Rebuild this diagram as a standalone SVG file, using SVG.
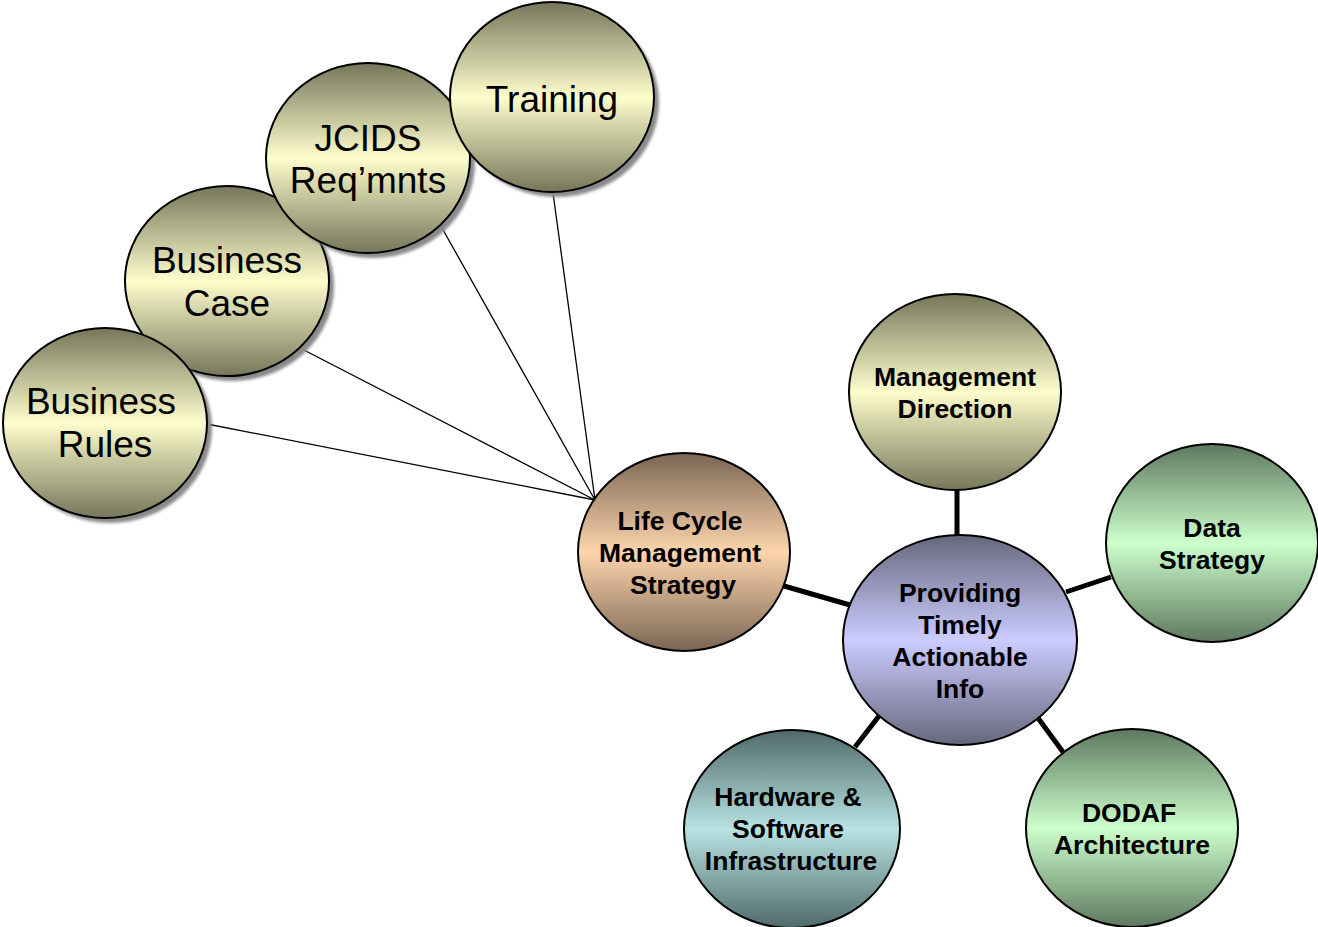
<svg xmlns="http://www.w3.org/2000/svg" width="1318" height="927" viewBox="0 0 1318 927">
<style>
.n{stroke:#000;stroke-width:2}
.sh{fill:#8a8a8a;filter:url(#blur)}
.t1{font-family:"Liberation Sans",Arial,sans-serif;font-size:37px;fill:#000;text-anchor:middle}
.t2{font-family:"Liberation Sans",Arial,sans-serif;font-size:26.5px;font-weight:bold;fill:#000;text-anchor:middle}
.thin{stroke:#000;stroke-width:1.3;fill:none}
.thick{stroke:#000;stroke-width:5;fill:none}
</style>
<defs>
<filter id="blur" x="-10%" y="-10%" width="120%" height="120%"><feGaussianBlur stdDeviation="1.5"/></filter>
<linearGradient id="gY" x1="0" y1="0" x2="0" y2="1">
<stop offset="0" stop-color="#76765a"/><stop offset="0.5" stop-color="#fdfdcc"/><stop offset="1" stop-color="#76765a"/>
</linearGradient>
<linearGradient id="gT" x1="0" y1="0" x2="0" y2="1">
<stop offset="0" stop-color="#7a6552"/><stop offset="0.5" stop-color="#fdd5ad"/><stop offset="1" stop-color="#7a6552"/>
</linearGradient>
<linearGradient id="gP" x1="0" y1="0" x2="0" y2="1">
<stop offset="0" stop-color="#66667e"/><stop offset="0.5" stop-color="#ccccff"/><stop offset="1" stop-color="#66667e"/>
</linearGradient>
<linearGradient id="gG" x1="0" y1="0" x2="0" y2="1">
<stop offset="0" stop-color="#5e785e"/><stop offset="0.5" stop-color="#ccffcc"/><stop offset="1" stop-color="#5e785e"/>
</linearGradient>
<linearGradient id="gC" x1="0" y1="0" x2="0" y2="1">
<stop offset="0" stop-color="#506a6a"/><stop offset="0.5" stop-color="#b8e2e2"/><stop offset="1" stop-color="#506a6a"/>
</linearGradient>
</defs>
<g id="connectors">
<line class="thin" x1="207" y1="424" x2="595" y2="500"/>
<line class="thin" x1="300" y1="348" x2="595" y2="500"/>
<line class="thin" x1="442" y1="228" x2="595" y2="500"/>
<line class="thin" x1="553" y1="193" x2="595" y2="500"/>
<line class="thick" x1="784" y1="586" x2="850" y2="605"/>
<line class="thick" x1="957" y1="536" x2="957" y2="490"/>
<line class="thick" x1="1066" y1="592" x2="1111" y2="577"/>
<line class="thick" x1="879" y1="716" x2="855" y2="747"/>
<line class="thick" x1="1038" y1="718" x2="1063" y2="752"/>
</g>
<g id="business-case">
<ellipse class="sh" cx="232" cy="286" rx="102" ry="95"/>
<ellipse class="n" cx="227" cy="281" rx="102" ry="95" fill="url(#gY)"/>
<text class="t1" x="227" y="273">Business</text>
<text class="t1" x="227" y="316">Case</text>
</g>
<g id="business-rules">
<ellipse class="sh" cx="110" cy="428" rx="102" ry="95"/>
<ellipse class="n" cx="105" cy="423" rx="102" ry="95" fill="url(#gY)"/>
<text class="t1" x="101" y="414">Business</text>
<text class="t1" x="105" y="457">Rules</text>
</g>
<g id="jcids">
<ellipse class="sh" cx="373" cy="163" rx="102" ry="95"/>
<ellipse class="n" cx="368" cy="158" rx="102" ry="95" fill="url(#gY)"/>
<text class="t1" x="368" y="151">JCIDS</text>
<text class="t1" x="368" y="193">Req’mnts</text>
</g>
<g id="training">
<ellipse class="sh" cx="557" cy="102" rx="102" ry="95"/>
<ellipse class="n" cx="552" cy="97" rx="102" ry="95" fill="url(#gY)"/>
<text class="t1" x="552" y="112">Training</text>
</g>
<g id="life-cycle">
<ellipse class="n" cx="684" cy="552" rx="106" ry="99" fill="url(#gT)"/>
<text class="t2" x="680" y="530">Life Cycle</text>
<text class="t2" x="680" y="562">Management</text>
<text class="t2" x="683" y="594">Strategy</text>
</g>
<g id="management-direction">
<ellipse class="n" cx="955" cy="392" rx="106" ry="98" fill="url(#gY)"/>
<text class="t2" x="955" y="386">Management</text>
<text class="t2" x="955" y="418">Direction</text>
</g>
<g id="data-strategy">
<ellipse class="n" cx="1212" cy="543" rx="106" ry="99" fill="url(#gG)"/>
<text class="t2" x="1212" y="537">Data</text>
<text class="t2" x="1212" y="569">Strategy</text>
</g>
<g id="providing">
<ellipse class="n" cx="960" cy="640" rx="117" ry="105" fill="url(#gP)"/>
<text class="t2" x="960" y="602">Providing</text>
<text class="t2" x="960" y="634">Timely</text>
<text class="t2" x="960" y="666">Actionable</text>
<text class="t2" x="960" y="698">Info</text>
</g>
<g id="hardware">
<ellipse class="n" cx="792" cy="829" rx="108" ry="99" fill="url(#gC)"/>
<text class="t2" x="788" y="806">Hardware &amp;</text>
<text class="t2" x="788" y="838">Software</text>
<text class="t2" x="791" y="870">Infrastructure</text>
</g>
<g id="dodaf">
<ellipse class="n" cx="1132" cy="828" rx="106" ry="99" fill="url(#gG)"/>
<text class="t2" x="1129" y="822">DODAF</text>
<text class="t2" x="1132" y="854">Architecture</text>
</g>
</svg>
